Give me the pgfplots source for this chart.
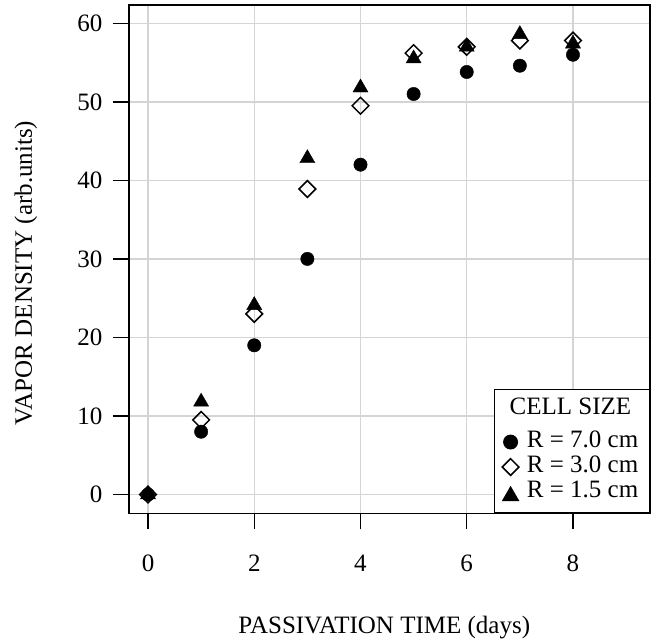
\documentclass[border=0pt]{standalone}
\usepackage{pgfplots}
\pgfplotsset{compat=1.18}
\usepackage{fontspec}
\setmainfont{Liberation Serif}
\newcommand{\ff}{\fontsize{25bp}{30bp}\selectfont}
\begin{document}
\begin{tikzpicture}
\useasboundingbox (-129bp,-127.7bp) rectangle (522bp,513.3bp);
\begin{axis}[
  scale only axis,
  width=521bp, height=508.3bp,
  xmin=-0.358, xmax=9.45,
  ymin=-2.39, ymax=62.33,
  xtick={0,2,4,6,8}, ytick={0,10,20,30,40,50,60},
  xtick pos=bottom, ytick pos=left,
  tick align=outside,
  major tick length=16bp,
  every tick/.style={black, line width=1.5bp},
  axis line style={line width=1.5bp},
  grid=major,
  major grid style={color=black!17, line width=1.5bp},
  /pgf/number format/assume math mode=true,
  tick label style={font=\ff},
  xticklabel style={yshift=-22bp},
  yticklabel style={xshift=-7bp},
  label style={font=\ff},
  xlabel={PASSIVATION TIME (days)},
  ylabel={VAPOR DENSITY (arb.units)},
  xlabel style={at={(axis description cs:0.49,0)}, anchor=base, yshift=-119.7bp},
  ylabel style={at={(axis description cs:-0.1862,0.473)}, anchor=base},
  legend style={at={(rel axis cs:1,0)}, anchor=south east, draw=black, line width=1.5bp,
    font=\ff, inner xsep=4bp, inner ysep=0bp, row sep=0bp,
    nodes={inner sep=0bp}, column sep=0bp},
  legend cell align=left,
]
\pgfplotsset{mm/.style={only marks, legend image code/.code={\draw[mark repeat=2,mark phase=2,##1] plot coordinates {(0bp,0bp)(12bp,0bp)(24bp,0bp)};}}}
\addlegendimage{empty legend}
\addlegendentry[text height=25bp, text depth=15bp]{\hspace*{-9.3bp}CELL SIZE}
\addplot[mm, mark=*, mark size=6.7bp, black] coordinates {
(0,0) (1,8) (2,19) (3,30) (4,42) (5,51) (6,53.8) (7,54.6) (8,56)};
\addlegendentry[text height=18bp, text depth=7bp]{\hspace*{8bp}R = 7.0 cm\hspace*{7bp}}
\addplot[mm, mark=square, mark size=5.9bp, black, mark options={rotate=45, line width=1.5bp, fill=none}] coordinates {
(0,0) (1,9.5) (2,23) (3,38.9) (4,49.5) (5,56.2) (6,57) (7,57.8) (8,57.8)};
\addlegendentry[text height=18bp, text depth=7bp]{\hspace*{8bp}R = 3.0 cm\hspace*{7bp}}
\addplot[mm, mark=triangle*, mark size=8.7bp, black] coordinates {
(0,0) (1,11.8) (2,24.1) (3,42.8) (4,51.8) (5,55.5) (6,57) (7,58.6) (8,57.4)};
\addlegendentry[text height=18bp, text depth=15bp]{\hspace*{8bp}R = 1.5 cm\hspace*{7bp}}
\end{axis}
\end{tikzpicture}
\end{document}
